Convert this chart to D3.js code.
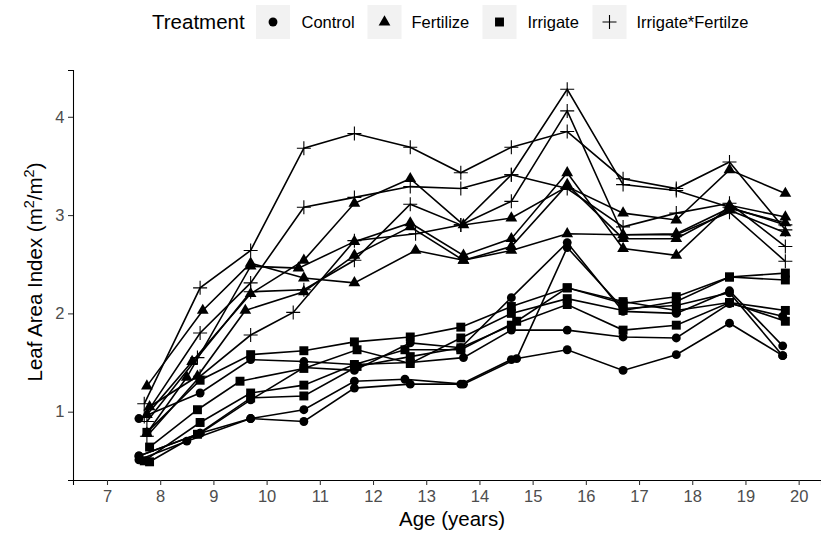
<!DOCTYPE html>
<html><head><meta charset="utf-8">
<script src="https://cdn.jsdelivr.net/npm/d3@7"></script>
<style>body{margin:0;background:#fff}svg{display:block;font-family:"Liberation Sans",Arial,sans-serif}</style>
</head><body><svg id="c" width="821" height="533"></svg>
<script>
// ---- data ----
const treatments = ["Control", "Fertilize", "Irrigate", "Irrigate*Fertilze"];
const xTicks = [7,8,9,10,11,12,13,14,15,16,17,18,19,20];
const yTicks = [1,2,3,4];

const controlAges = [
  [7.6, 8.5, 9.7, 10.7, 11.65, 12.7, 13.65, 14.6, 15.65, 16.7, 17.7, 18.7, 19.7],
  [7.6, 8.75, 9.7, 10.7, 11.65, 12.6, 13.7, 14.7, 15.65, 16.7, 17.7, 18.7, 19.7],
  [7.6, 8.75, 9.7, 10.7, 11.65, 12.7, 13.7, 14.6, 15.65, 16.7, 17.7, 18.7, 19.7],
  [7.6, 8.75, 9.7, 10.7, 11.65, 12.7, 13.65, 14.6, 15.65, 16.7, 17.7, 18.7, 19.7]
];
const controlLAI = [
  [0.51, 0.70, 0.93, 0.90, 1.24, 1.28, 1.28, 1.53, 1.63, 1.42, 1.58, 1.90, 1.57],
  [0.55, 0.78, 0.93, 1.02, 1.31, 1.33, 1.28, 1.54, 2.67, 2.05, 2.08, 2.21, 1.57],
  [0.93, 1.19, 1.53, 1.51, 1.48, 1.50, 1.55, 1.83, 1.83, 1.76, 1.75, 2.10, 1.97],
  [0.55, 0.78, 1.12, 1.45, 1.42, 1.70, 1.65, 2.16, 2.72, 2.02, 2.00, 2.23, 1.67]
];
const fertilizeAges = [
  [7.75, 8.8, 9.7, 10.7, 11.65, 12.8, 13.7, 14.6, 15.65, 16.7, 17.7, 18.7, 19.75],
  [7.75, 8.6, 9.7, 10.7, 11.65, 12.7, 13.7, 14.6, 15.65, 16.7, 17.7, 18.7, 19.75],
  [7.75, 8.5, 9.7, 10.6, 11.65, 12.7, 13.7, 14.6, 15.65, 16.7, 17.7, 18.7, 19.75],
  [7.8, 8.7, 9.6, 10.7, 11.65, 12.7, 13.7, 14.6, 15.65, 16.7, 17.7, 18.7, 19.75]
];
const fertilizeLAI = [
  [1.26, 2.03, 2.51, 2.36, 2.31, 2.64, 2.54, 2.64, 2.81, 2.80, 2.81, 3.07, 2.92],
  [0.97, 1.51, 2.20, 2.54, 3.12, 3.37, 2.90, 2.97, 3.29, 3.02, 2.95, 3.46, 3.22],
  [0.78, 1.35, 2.48, 2.46, 2.73, 2.92, 2.59, 2.76, 3.43, 2.66, 2.59, 3.10, 2.98],
  [1.05, 1.36, 2.03, 2.22, 2.59, 2.88, 2.54, 2.68, 3.31, 2.76, 2.76, 3.05, 2.82]
];
const irrigateAges = [
  [7.75, 8.75, 9.7, 10.7, 11.65, 12.7, 13.65, 14.6, 15.65, 16.7, 17.7, 18.7, 19.75],
  [7.8, 8.7, 9.5, 10.7, 11.7, 12.7, 13.65, 14.6, 15.65, 16.7, 17.7, 18.7, 19.75],
  [7.7, 8.75, 9.7, 10.7, 11.65, 12.6, 13.65, 14.7, 15.65, 16.7, 17.7, 18.7, 19.75],
  [7.8, 8.7, 9.7, 10.7, 11.7, 12.7, 13.65, 14.6, 15.65, 16.7, 17.7, 18.7, 19.75]
];
const irrigateLAI = [
  [0.79, 1.32, 1.58, 1.62, 1.71, 1.76, 1.86, 2.07, 2.26, 2.10, 2.17, 2.37, 2.41],
  [0.64, 1.02, 1.31, 1.44, 1.63, 1.49, 1.75, 2.00, 2.15, 2.03, 2.12, 2.37, 2.34],
  [0.50, 0.89, 1.19, 1.27, 1.48, 1.63, 1.63, 1.92, 2.26, 2.12, 2.03, 2.11, 2.03],
  [0.49, 0.77, 1.14, 1.16, 1.46, 1.56, 1.65, 1.88, 2.09, 1.83, 1.88, 2.11, 1.92]
];
const irrFertAges = [
  [7.7, 8.75, 9.7, 10.7, 11.65, 12.7, 13.65, 14.6, 15.65, 16.7, 17.7, 18.7, 19.75],
  [7.7, 8.75, 9.7, 10.7, 11.65, 12.7, 13.65, 14.6, 15.65, 16.7, 17.7, 18.7, 19.75],
  [7.75, 8.7, 9.7, 10.7, 11.65, 12.7, 13.65, 14.6, 15.65, 16.7, 17.7, 18.7, 19.75],
  [7.75, 8.75, 9.7, 10.5, 11.65, 12.8, 13.65, 14.6, 15.65, 16.7, 17.7, 18.7, 19.75]
];
const irrFertLAI = [
  [1.08, 2.26, 2.64, 3.68, 3.83, 3.69, 3.43, 3.69, 3.85, 3.37, 3.27, 3.54, 2.85],
  [0.95, 1.80, 2.31, 3.08, 3.18, 3.29, 3.27, 3.41, 3.27, 2.88, 3.02, 3.12, 2.68],
  [0.90, 1.55, 2.22, 2.24, 2.54, 3.11, 2.90, 3.41, 4.28, 3.31, 3.25, 3.08, 2.90],
  [0.75, 1.36, 1.78, 2.01, 2.74, 2.81, 2.90, 3.14, 4.06, 2.80, 2.80, 3.03, 2.53]
];

// ---- build ----
const groups = [];
[[controlAges, controlLAI], [fertilizeAges, fertilizeLAI], [irrigateAges, irrigateLAI], [irrFertAges, irrFertLAI]]
  .forEach(([ages, vals], ti) => ages.forEach((a, k) => groups.push({t: treatments[ti], pts: a.map((x, i) => ({x, y: vals[k][i]}))})));

const svg = d3.select("#c");
const x = d3.scaleLinear().domain([6.361, 20.42]).range([73, 821]);
const y = d3.scaleLinear().domain([0.305, 4.476]).range([480, 70]);

const gx = svg.append("g").attr("transform", "translate(0,480)")
  .call(d3.axisBottom(x).tickValues(xTicks).tickSize(5).tickPadding(5.5).tickFormat(d3.format("d")));
const gy = svg.append("g").attr("transform", "translate(73,0)")
  .call(d3.axisLeft(y).tickValues(yTicks).tickSize(5).tickPadding(3.5).tickFormat(d3.format("d")));
[gx, gy].forEach(g => {
  g.select(".domain").attr("stroke", "#000").attr("stroke-width", 1.07);
  g.selectAll(".tick line").attr("stroke", "#333").attr("stroke-width", 1.07);
  g.selectAll(".tick text").attr("fill", "#4d4d4d").style("font-size", "16.5px").style("font-family", "Liberation Sans, Arial, sans-serif");
});

const line = d3.line().x(d => x(d.x)).y(d => y(d.y));
svg.append("g").selectAll("path").data(groups).join("path")
  .attr("d", d => line(d.pts)).attr("fill", "none").attr("stroke", "#000").attr("stroke-width", 1.6);

const circ = d3.symbol().type(d3.symbolCircle).size(62)();
const tri = d3.symbol().type(d3.symbolTriangle).size(60)();
const sq = d3.symbol().type(d3.symbolSquare).size(80)();
const plus = "M-7,0H7M0,-7V7";
const shape = {"Control": circ, "Fertilize": tri, "Irrigate": sq, "Irrigate*Fertilze": plus};

const pts = svg.append("g");
groups.forEach(g => {
  pts.selectAll(null).data(g.pts).join("path")
    .attr("transform", d => `translate(${x(d.x)},${y(d.y)})`)
    .attr("d", shape[g.t])
    .attr("fill", g.t === "Irrigate*Fertilze" ? "none" : "#000")
    .attr("stroke", g.t === "Irrigate*Fertilze" ? "#000" : "none")
    .attr("stroke-width", 1.1);
});

// axis titles
svg.append("text").attr("x", 452).attr("y", 526).attr("text-anchor", "middle")
  .style("font-size", "20.5px").text("Age (years)");
const yl = svg.append("text").attr("transform", "translate(42,272) rotate(-90)").attr("text-anchor", "middle")
  .style("font-size", "20.5px");
yl.append("tspan").text("Leaf Area Index (m");
yl.append("tspan").attr("dy", -8).style("font-size", "14.5px").text("2");
yl.append("tspan").attr("dy", 8).text("/m");
yl.append("tspan").attr("dy", -8).style("font-size", "14.5px").text("2");
yl.append("tspan").attr("dy", 8).text(")");

// legend
const leg = svg.append("g");
leg.append("text").attr("x", 152).attr("y", 29).style("font-size", "20.5px").text("Treatment");
const keyX = [256, 367.5, 482.5, 592.5];
const labX = [301.5, 411.5, 527.5, 636.5];
treatments.forEach((t, i) => {
  leg.append("rect").attr("x", keyX[i]).attr("y", 5).attr("width", 34).attr("height", 34).attr("fill", "#f2f2f2");
  leg.append("path").attr("d", shape[t])
    .attr("fill", t === "Irrigate*Fertilze" ? "none" : "#000")
    .attr("stroke", t === "Irrigate*Fertilze" ? "#000" : "none").attr("stroke-width", 1.1)
    .attr("transform", `translate(${keyX[i] + 17},22)`);
  leg.append("text").attr("x", labX[i]).attr("y", 28).style("font-size", "16.5px").text(t);
});
</script></body></html>
